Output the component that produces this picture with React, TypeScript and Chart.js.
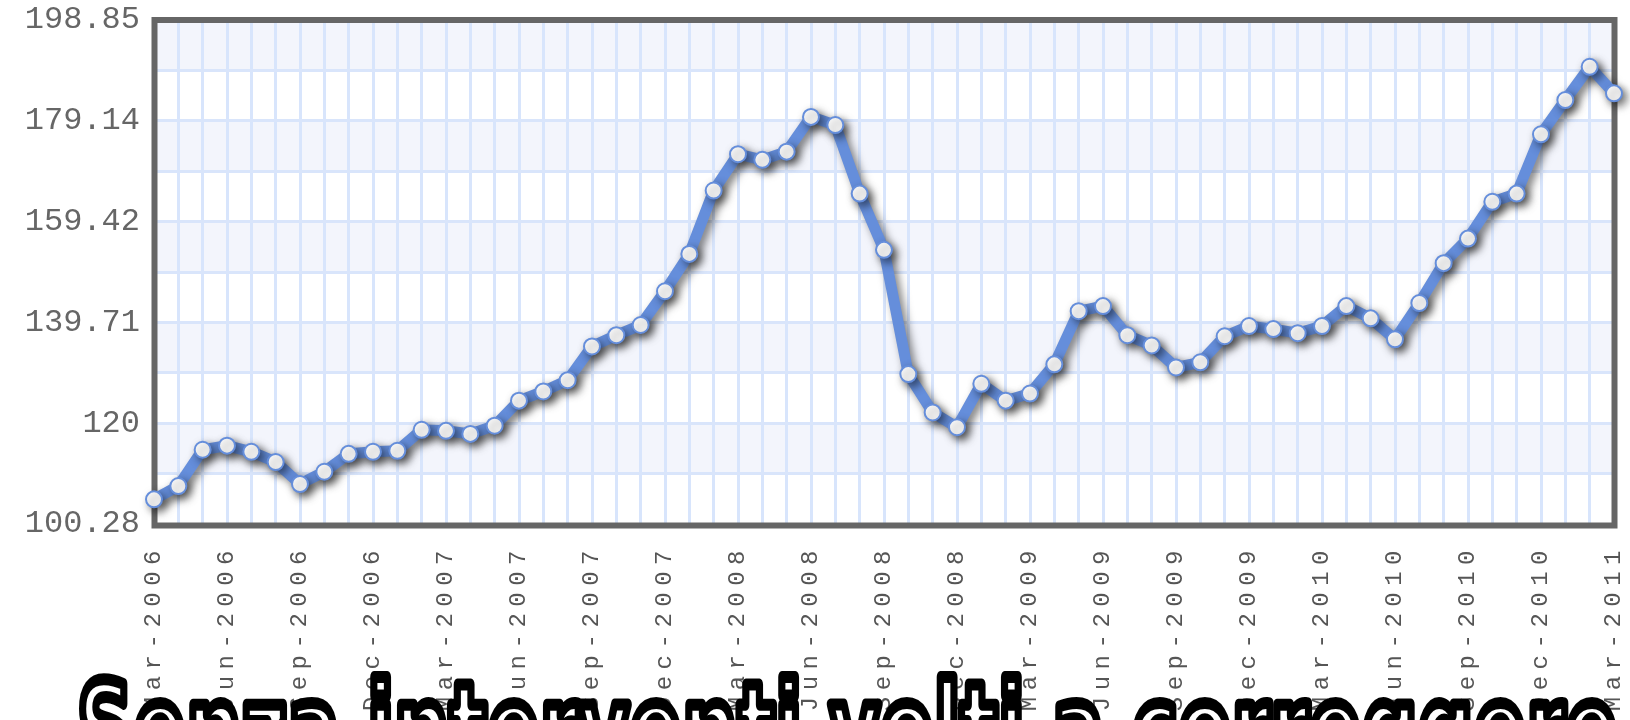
import { useEffect, useRef } from 'react';
import { Chart, registerables } from 'chart.js';

Chart.register(...registerables);

const monthLabels = [
  'Mar-2006', 'Apr-2006', 'May-2006', 'Jun-2006', 'Jul-2006', 'Aug-2006', 'Sep-2006', 'Oct-2006', 'Nov-2006', 'Dec-2006',
  'Jan-2007', 'Feb-2007', 'Mar-2007', 'Apr-2007', 'May-2007', 'Jun-2007', 'Jul-2007', 'Aug-2007', 'Sep-2007', 'Oct-2007', 'Nov-2007', 'Dec-2007',
  'Jan-2008', 'Feb-2008', 'Mar-2008', 'Apr-2008', 'May-2008', 'Jun-2008', 'Jul-2008', 'Aug-2008', 'Sep-2008', 'Oct-2008', 'Nov-2008', 'Dec-2008',
  'Jan-2009', 'Feb-2009', 'Mar-2009', 'Apr-2009', 'May-2009', 'Jun-2009', 'Jul-2009', 'Aug-2009', 'Sep-2009', 'Oct-2009', 'Nov-2009', 'Dec-2009',
  'Jan-2010', 'Feb-2010', 'Mar-2010', 'Apr-2010', 'May-2010', 'Jun-2010', 'Jul-2010', 'Aug-2010', 'Sep-2010', 'Oct-2010', 'Nov-2010', 'Dec-2010',
  'Jan-2011', 'Feb-2011', 'Mar-2011',
];

const indexValues = [
  105.1, 107.7, 114.8, 115.6, 114.4, 112.4, 108.1, 110.5, 114.0, 114.4,
  114.6, 118.7, 118.5, 117.9, 119.5, 124.4, 126.2, 128.4, 135.0, 137.2, 139.2, 145.8,
  153.1, 165.5, 172.6, 171.5, 173.1, 179.9, 178.3, 164.9, 153.9, 129.6, 122.1, 119.2,
  127.7, 124.4, 125.8, 131.5, 141.9, 142.9, 137.2, 135.2, 130.9, 131.9, 137.0, 139.0,
  138.4, 137.6, 139.0, 142.9, 140.5, 136.4, 143.5, 151.3, 156.1, 163.3, 164.9, 176.5,
  183.2, 189.7, 184.5,
];

const yTickValues = [100.28, 120, 139.71, 159.42, 179.14, 198.85];
const yTickLabels = ['100.28', '120', '139.71', '159.42', '179.14', '198.85'];
const yMin = 100.28;
const yMax = 198.85;
const labelEvery = 3;
const titleText = 'Senza interventi volti a correggere';

// grid values: major ticks plus midpoints
const gridValues: number[] = [];
const gridLabels: string[] = [];
yTickValues.forEach((v, i) => {
  gridValues.push(v);
  gridLabels.push(yTickLabels[i]);
  if (i < yTickValues.length - 1) {
    gridValues.push((v + yTickValues[i + 1]) / 2);
    gridLabels.push('');
  }
});

const LINE_COLOR = '#658edb';

const decorPlugin = {
  id: 'decor',
  beforeDraw(chart: any) {
    const { ctx, chartArea, scales } = chart;
    const y = scales.y;
    ctx.save();
    for (let i = 0; i < gridValues.length - 1; i++) {
      const top = y.getPixelForValue(gridValues[gridValues.length - 1 - i]);
      const bottom = y.getPixelForValue(gridValues[gridValues.length - 2 - i]);
      ctx.fillStyle = i % 2 === 0 ? '#f3f5fc' : '#ffffff';
      ctx.fillRect(chartArea.left, top, chartArea.right - chartArea.left, bottom - top);
    }
    ctx.restore();
  },
  beforeDatasetsDraw(chart: any) {
    const { ctx, chartArea } = chart;
    ctx.save();
    ctx.strokeStyle = '#666666';
    ctx.lineWidth = 6;
    ctx.strokeRect(chartArea.left + 0.5, chartArea.top, chartArea.right - chartArea.left, chartArea.bottom - chartArea.top + 1.5);
    ctx.restore();
    ctx.save();
    ctx.shadowColor = 'rgba(0,0,0,0.5)';
    ctx.shadowBlur = 8;
    ctx.shadowOffsetX = 4;
    ctx.shadowOffsetY = 4;
  },
  afterDatasetsDraw(chart: any) {
    const { ctx } = chart;
    ctx.restore();
    ctx.letterSpacing = '6.5px';
  },
  afterDraw(chart: any) {
    const { ctx } = chart;
    ctx.letterSpacing = '0px';
    ctx.save();
    ctx.font = 'bold 130px "DejaVu Sans"';
    ctx.textAlign = 'left';
    ctx.textBaseline = 'alphabetic';
    const w = ctx.measureText(titleText).width;
    const x0 = 77;
    const x1 = 1618;
    const sx = (x1 - x0) / w;
    ctx.translate(x0, 776);
    ctx.scale(sx, 1);
    ctx.lineJoin = 'round';
    ctx.fillStyle = '#ffffff';
    ctx.fillText(titleText, 0, 0);
    ctx.strokeStyle = '#000000';
    ctx.lineWidth = 12;
    ctx.strokeText(titleText, 0, 0);
    ctx.restore();
  },
};

export default function App() {
  const canvasRef = useRef<HTMLCanvasElement | null>(null);

  useEffect(() => {
    const canvas = canvasRef.current;
    if (!canvas) return;
    const chart = new Chart(canvas, {
      type: 'line',
      data: {
        labels: monthLabels,
        datasets: [
          {
            data: indexValues,
            borderColor: LINE_COLOR,
            borderWidth: 11,
            backgroundColor: '#ffffff',
            pointBackgroundColor: '#ffffff',
            pointBorderColor: LINE_COLOR,
            pointBorderWidth: 2,
            pointRadius: 8,
            tension: 0,
            clip: false as any,
            fill: false,
          },
        ],
      },
      options: {
        animation: false,
        responsive: false,
        devicePixelRatio: 1,
        layout: { padding: { top: 20, right: 16, left: 0, bottom: 0 } },
        plugins: {
          legend: { display: false },
          tooltip: { enabled: false },
          title: { display: false },
        },
        scales: {
          x: {
            type: 'category',
            offset: false,
            border: { display: false },
            grid: { color: '#d8e5fc', lineWidth: 3, drawTicks: false, offset: false },
            ticks: {
              autoSkip: false,
              minRotation: 90,
              maxRotation: 90,
              padding: 20,
              color: '#555555',
              font: { family: '"Liberation Mono", monospace', size: 24 },
              z: 1,
              callback: (_v: any, i: number) => (i % labelEvery === 0 ? monthLabels[i] : ''),
            },
            afterFit: (s: any) => {
              s.height = 196;
              s.paddingLeft = 0;
              s.paddingRight = 0;
            },
          },
          y: {
            type: 'linear',
            min: yMin,
            max: yMax,
            border: { display: false },
            grid: { color: '#d9e5fb', lineWidth: 3, drawTicks: false },
            ticks: {
              padding: 14,
              color: '#666666',
              font: { family: '"Liberation Mono", monospace', size: 32 },
              callback: (_v: any, i: number) => gridLabels[i],
            },
            afterBuildTicks: (s: any) => {
              s.ticks = gridValues.map((v) => ({ value: v }));
            },
            afterFit: (s: any) => {
              s.width = 154;
              s.paddingTop = 0;
              s.paddingBottom = 0;
            },
          },
        },
      },
      plugins: [decorPlugin],
    });
    return () => chart.destroy();
  }, []);

  return (
    <div style={{ position: 'absolute', left: 0, top: 0, width: 1630, height: 720, background: '#ffffff' }}>
      <canvas ref={canvasRef} width={1630} height={720} style={{ display: 'block' }} />
    </div>
  );
}
